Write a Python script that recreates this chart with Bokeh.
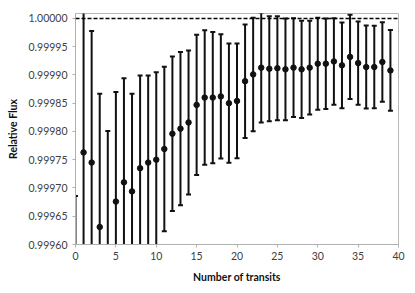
from bokeh.plotting import figure
from bokeh.models import ColumnDataSource, Whisker, TeeHead, Span, NumeralTickFormatter, FixedTicker, Range1d
from bokeh.embed import file_html
from bokeh.resources import INLINE

transits = list(range(0, 40))
flux = [0.99952, 0.999763, 0.999745, 0.999631, 0.99958, 0.999676, 0.999710, 0.999694,
        0.999735, 0.999745, 0.999750, 0.999769, 0.999796, 0.999805, 0.999816, 0.999847,
        0.999860, 0.999860, 0.999862, 0.999850, 0.999854, 0.999889, 0.999901, 0.999913,
        0.999911, 0.999912, 0.999910, 0.999913, 0.999910, 0.999913, 0.999920, 0.999920,
        0.999924, 0.999917, 0.999932, 0.999921, 0.999914, 0.999914, 0.999923, 0.999908]
err = [0.000166, 0.000400, 0.000233, 0.000236, 0.000221, 0.000194, 0.000184, 0.000173,
       0.000164, 0.000154, 0.000155, 0.0001455, 0.0001365, 0.0001355, 0.0001275, 0.000124,
       0.000119, 0.000116, 0.000110, 0.0001055, 0.0001015, 0.0001005, 0.0001005, 0.000097,
       0.000093, 0.000092, 0.000090, 0.0000875, 0.000086, 0.000083, 0.0000815, 0.000080,
       0.0000765, 0.000076, 0.0000745, 0.0000735, 0.0000735, 0.000073, 0.0000705, 0.0000715]
x_ticks = [0, 5, 10, 15, 20, 25, 30, 35, 40]
y_ticks = [0.99960, 0.99965, 0.99970, 0.99975, 0.99980, 0.99985, 0.99990, 0.99995, 1.00000]

upper = [f + e for f, e in zip(flux, err)]
lower = [f - e for f, e in zip(flux, err)]
src = ColumnDataSource(dict(x=transits, y=flux, upper=upper, lower=lower))

FONT = "Lato"
p = figure(width=415, height=293, output_backend="svg", toolbar_location=None,
           x_range=Range1d(0, 40), y_range=Range1d(0.9996, 1.0000088),
           min_border_left=75, min_border_right=17, min_border_top=13, min_border_bottom=49)
p.background_fill_color = "white"
p.border_fill_color = "white"
p.outline_line_color = "#b8b8b8"
p.outline_line_width = 1
p.xgrid.visible = False
p.ygrid.visible = False

w = Whisker(base="x", upper="upper", lower="lower", source=src, dimension="height",
            line_color="#111111", line_width=2,
            upper_head=TeeHead(size=5, line_width=2, line_color="#111111"),
            lower_head=TeeHead(size=5, line_width=2, line_color="#111111"))
p.add_layout(w)
p.add_layout(Span(location=1.0, dimension="width", line_color="black", line_width=1.5, line_dash="4 2"))
p.scatter("x", "y", source=src, size=5.5, color="#111111")

for ax in (p.xaxis[0], p.yaxis[0]):
    ax.axis_line_color = "#b0b0b0"
    ax.major_tick_line_color = "#b0b0b0"
    ax.minor_tick_line_color = None
    ax.major_tick_in = 0
    ax.major_tick_out = 3
    ax.major_label_text_font = FONT
    ax.major_label_text_font_size = "10.5px"
    ax.major_label_text_color = "#404040"
    ax.axis_label_text_font = FONT
    ax.axis_label_text_font_style = "bold"
    ax.axis_label_text_font_size = "10.5px"
    ax.axis_label_text_color = "#111111"

p.xaxis.ticker = FixedTicker(ticks=x_ticks)
p.yaxis.ticker = FixedTicker(ticks=y_ticks)
p.yaxis.formatter = NumeralTickFormatter(format="0.00000")
p.xaxis.axis_label = "Number of transits"
p.yaxis.axis_label = "Relative Flux"
p.xaxis.major_label_standoff = 4
p.yaxis.major_label_standoff = 5
p.xaxis.axis_label_standoff = 8
p.yaxis.axis_label_standoff = 6

open("out.html", "w").write(file_html(p, INLINE))
